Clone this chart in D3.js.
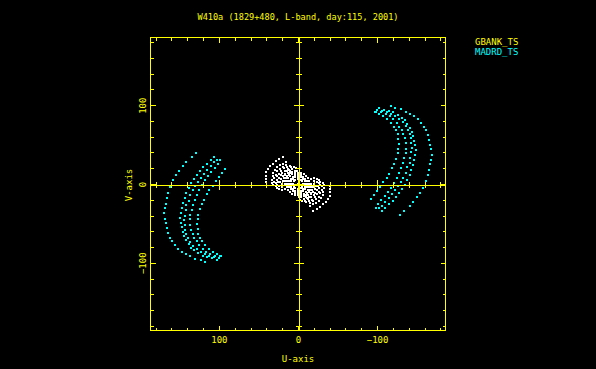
<!DOCTYPE html>
<html>
<head>
<meta charset="utf-8">
<script src="https://cdn.jsdelivr.net/npm/d3@7"></script>
<style>
body { margin: 0; background: #000; }
svg { display: block; }
text { font-family: "DejaVu Sans Mono", monospace; font-size: 9px; }
</style>
</head>
<body>
<div id="chart"></div>
<script>
const title = "W410a (1829+480, L-band, day:115, 2001)";
const seriesNames = ["GBANK_TS", "MADRD_TS"];
const minorTicks = [-180, -160, -140, -120, -80, -60, -40, -20, 20, 40, 60, 80, 120, 140, 160, 180];
const majorTicks = [-100, 0, 100];
const majorLabels = ["\u2212100", "0", "100"];

// MADRD_TS tracks [u, v]; the conjugate points (-u, -v) are plotted too
const madrdTrack1 = [[129,39],[134,34],[141,28],[145,23],[150,17],[154,11],[158,5],[162,-4],[164,-11],[166,-18],[167,-25],[168,-31],[169,-37],[168,-44],[167,-50],[166,-56],[164,-62],[162,-68],[159,-73],[156,-78],[152,-82],[147,-86],[142,-89],[136,-92],[130,-95],[123,-97],[117,-99]];
const madrdTrack2 = [[106,34],[110,31],[115,26],[120,21],[124,16],[128,11],[131,6],[135,1],[138,-5],[141,-11],[143,-18],[146,-24],[147,-30],[148,-37],[149,-43],[148,-49],[147,-55],[146,-61],[144,-66],[141,-71],[138,-76],[135,-81],[131,-84],[126,-88],[120,-91],[115,-93],[109,-94],[103,-96]];
const madrdTrack3 = [[102,31],[106,28],[110,23],[115,18],[119,13],[123,8],[126,3],[130,-2],[133,-8],[136,-14],[138,-21],[141,-27],[142,-33],[143,-40],[144,-46],[143,-52],[143,-58],[141,-63],[139,-69],[136,-74],[133,-79],[128,-83],[123,-86],[118,-89],[112,-92],[106,-93],[100,-94]];
const madrdTrack4 = [[98,30],[101,25],[105,20],[110,15],[114,10],[117,5],[121,-1],[125,-8],[128,-14],[130,-20],[133,-27],[134,-33],[136,-39],[136,-45],[136,-52],[135,-58],[133,-63],[131,-68],[128,-73],[125,-78],[120,-82],[116,-86],[111,-89],[105,-91],[99,-92]];
const madrdTrack5 = [[92,19],[96,14],[100,9],[104,4],[108,-2],[112,-8],[115,-13],[119,-20],[122,-26],[124,-32],[126,-39],[127,-45],[128,-51],[127,-57],[126,-63],[124,-68],[121,-73],[117,-78],[113,-82],[108,-86],[103,-89],[97,-91]];

// short baselines near the origin (white)
const whiteArc1 = [[40,2],[40,6],[40,10],[40,15],[38,19],[35,23],[32,26],[28,29],[24,32],[19,34]];
const whiteArc2 = [[33,1],[33,5],[32,10],[31,14],[29,18],[27,21],[23,24],[19,26],[15,28]];
const whiteArc2b = [[31,-1],[30,3],[30,8],[28,12],[26,16],[23,19],[19,22],[15,24]];
const whiteArc3 = [[28,-3],[28,1],[27,5],[26,10],[24,13],[21,17],[18,20],[14,22],[10,23]];
const whiteArc3b = [[26,-5],[26,-1],[25,3],[24,7],[22,11],[20,14],[17,17],[13,19],[9,21],[5,22]];
const whiteArc4 = [[24,-6],[24,-2],[23,2],[22,6],[19,10],[17,13],[14,16],[11,18],[7,19],[3,20]];
const whiteArc5 = [[20,-8],[20,-4],[20,0],[19,4],[18,8],[16,11],[13,14],[10,16]];
const whiteRing1 = [[0,0],[6.5,0],[5.6,3.3],[3.3,5.6],[0,6.5],[-3.3,5.6],[-5.6,3.3]];
const whiteRing2 = [[9,0],[8.3,3.4],[6.4,6.4],[3.4,8.3],[0,9],[-3.4,8.3],[-6.4,6.4],[-8.3,3.4]];
const whiteRing3 = [[11.5,0],[10.9,3.6],[9.3,6.8],[6.8,9.3],[3.6,10.9],[0,11.5],[-3.6,10.9],[-6.8,9.3],[-9.3,6.8],[-10.9,3.6]];
const whiteRing4 = [[14,0],[13.5,3.6],[12.1,7],[9.9,9.9],[7,12.1],[3.6,13.5],[0,14],[-3.6,13.5],[-7,12.1],[-9.9,9.9],[-12.1,7],[-13.5,3.6]];
const whiteRing5 = [[16,-6],[17,0],[16.5,4.4],[15.4,7.2],[13.9,9.8],[12,12],[9.8,13.9],[7.2,15.4],[4.4,16.4],[1.5,17]];

const yellow = "#ffff00", cyan = "#00ffff";
const width = 596, height = 369;
const frame = { left: 150.5, right: 445.5, top: 37.5, bottom: 330.5 };

const withConjugates = pts => pts.concat(pts.map(p => [-p[0], -p[1]]));
const cyanPts = withConjugates([].concat(madrdTrack1, madrdTrack2, madrdTrack3, madrdTrack4, madrdTrack5));
const whitePts = withConjugates([].concat(whiteArc1, whiteArc2, whiteArc2b, whiteArc3, whiteArc3b, whiteArc4,
    whiteArc5, whiteRing1, whiteRing2, whiteRing3, whiteRing4, whiteRing5));

const x = d3.scaleLinear().domain([186.5, -186.5]).range([frame.left, frame.right]);
const y = d3.scaleLinear().domain([-186, 186]).range([frame.bottom, frame.top]);

const svg = d3.select("#chart").append("svg")
    .attr("width", width)
    .attr("height", height)
    .style("background", "#000");

// points
function drawPoints(pts, color) {
    svg.append("g")
        .attr("fill", color)
        .selectAll("rect")
        .data(pts)
        .join("rect")
        .attr("x", d => Math.round(x(d[0])) - 1)
        .attr("y", d => Math.round(y(d[1])) - 1)
        .attr("width", 2)
        .attr("height", 2);
}
drawPoints(whitePts, "#ffffff");
drawPoints(cyanPts, cyan);

// frame
svg.append("rect")
    .attr("x", frame.left)
    .attr("y", frame.top)
    .attr("width", frame.right - frame.left)
    .attr("height", frame.bottom - frame.top)
    .attr("fill", "none")
    .attr("stroke", yellow)
    .attr("shape-rendering", "crispEdges");

function axisGroup(transform) {
    return svg.append("g")
        .attr("transform", transform)
        .attr("color", yellow)
        .attr("shape-rendering", "crispEdges");
}
const noDomain = g => g.select(".domain").remove();

// frame ticks, pointing inwards
axisGroup(`translate(0,${frame.bottom})`)
    .call(d3.axisBottom(x).tickValues(minorTicks).tickSize(-3).tickFormat(""))
    .call(noDomain);
axisGroup(`translate(0,${frame.bottom})`)
    .call(d3.axisBottom(x).tickValues(majorTicks).tickSize(-5).tickPadding(6)
        .tickFormat((d, i) => majorLabels[i]))
    .call(noDomain)
    .selectAll("text").attr("fill", yellow);

axisGroup(`translate(0,${frame.top})`)
    .call(d3.axisTop(x).tickValues(minorTicks).tickSize(-3).tickFormat(""))
    .call(noDomain);
axisGroup(`translate(0,${frame.top})`)
    .call(d3.axisTop(x).tickValues(majorTicks).tickSize(-5).tickFormat(""))
    .call(noDomain);

axisGroup(`translate(${frame.left},0)`)
    .call(d3.axisLeft(y).tickValues(minorTicks).tickSize(-3).tickFormat(""))
    .call(noDomain);
axisGroup(`translate(${frame.left},0)`)
    .call(d3.axisLeft(y).tickValues(majorTicks).tickSize(-5)
        .tickFormat((d, i) => majorLabels[i]))
    .call(noDomain)
    .selectAll("text")
    .attr("fill", yellow)
    .attr("x", null)
    .attr("dy", null)
    .attr("text-anchor", "middle")
    .attr("transform", "translate(-4.5,0) rotate(-90)");

axisGroup(`translate(${frame.right},0)`)
    .call(d3.axisRight(y).tickValues(minorTicks).tickSize(-3).tickFormat(""))
    .call(noDomain);
axisGroup(`translate(${frame.right},0)`)
    .call(d3.axisRight(y).tickValues(majorTicks).tickSize(-5).tickFormat(""))
    .call(noDomain);

// axes through the origin, ticks crossing the line
const y0 = Math.round(y(0)) + 0.5, x0 = Math.round(x(0)) + 0.5;
[[d3.axisBottom, 3, minorTicks], [d3.axisTop, 3, minorTicks], [d3.axisBottom, 5, majorTicks], [d3.axisTop, 5, majorTicks]]
    .forEach(([fn, s, vals]) => {
        axisGroup(`translate(0,${y0})`)
            .call(fn(x).tickValues(vals).tickSize(s).tickSizeOuter(0).tickFormat(""));
    });
[[d3.axisLeft, 3, minorTicks], [d3.axisRight, 3, minorTicks], [d3.axisLeft, 5, majorTicks], [d3.axisRight, 5, majorTicks]]
    .forEach(([fn, s, vals]) => {
        axisGroup(`translate(${x0},0)`)
            .call(fn(y).tickValues(vals).tickSize(s).tickSizeOuter(0).tickFormat(""));
    });

// titles
svg.append("text")
    .attr("x", 298)
    .attr("y", 20)
    .attr("text-anchor", "middle")
    .attr("fill", yellow)
    .attr("textLength", 201)
    .attr("lengthAdjust", "spacingAndGlyphs")
    .text(title);

svg.append("text")
    .attr("x", 298)
    .attr("y", 362)
    .attr("text-anchor", "middle")
    .attr("fill", yellow)
    .text("U-axis");

svg.append("text")
    .attr("transform", "translate(131.5,185) rotate(-90)")
    .attr("text-anchor", "middle")
    .attr("fill", yellow)
    .text("V-axis");

// legend
svg.selectAll(".legend")
    .data(seriesNames)
    .join("text")
    .attr("class", "legend")
    .attr("x", 475)
    .attr("y", (d, i) => 45 + i * 10)
    .attr("fill", (d, i) => i === 0 ? yellow : cyan)
    .text(d => d);
</script>
</body>
</html>
